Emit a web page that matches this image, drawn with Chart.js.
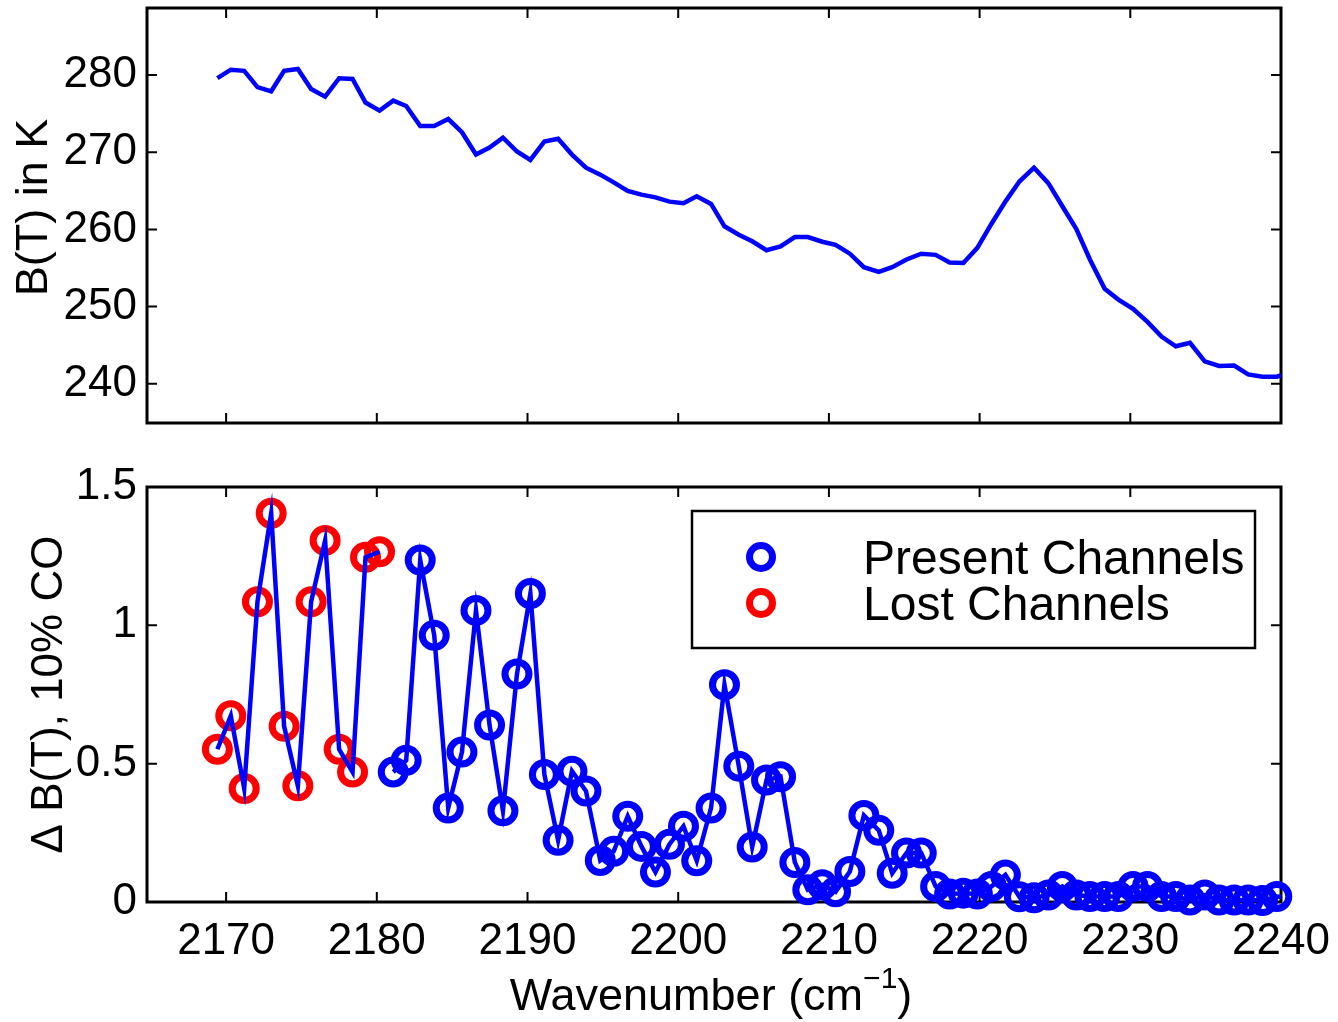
<!DOCTYPE html>
<html>
<head>
<meta charset="utf-8">
<script src="https://cdn.jsdelivr.net/npm/chart.js@4/dist/chart.umd.min.js"></script>
<style>
  html, body { margin: 0; padding: 0; background: #fff; overflow: hidden; }
  #wrap { position: relative; width: 1338px; height: 1022px; background: #fff; }
  #btCanvas { position: absolute; left: 0; top: 0; }
  #dbtCanvas { position: absolute; left: 0; top: 440px; }
</style>
</head>
<body>
<div id="wrap">
  <canvas id="btCanvas" width="1338" height="440"></canvas>
  <canvas id="dbtCanvas" width="1338" height="582"></canvas>
</div>
<script>
// --- Channel grid (cm^-1), shared by both panels ---
const wavenumber = [
  2169.42, 2170.31, 2171.20, 2172.08, 2172.99, 2173.85, 2174.76, 2175.64, 2176.57, 2177.50,
  2178.39, 2179.25, 2180.18, 2181.09, 2181.95, 2182.88, 2183.81, 2184.74, 2185.65, 2186.58,
  2187.48, 2188.37, 2189.30, 2190.19, 2191.12, 2192.03, 2192.95, 2193.88, 2194.83, 2195.72,
  2196.65, 2197.56, 2198.49, 2199.42, 2200.35, 2201.23, 2202.18, 2203.07, 2204.02, 2204.91,
  2205.86, 2206.79, 2207.74, 2208.60, 2209.56, 2210.44, 2211.39, 2212.32, 2213.31, 2214.20,
  2215.15, 2216.13, 2217.08, 2218.01, 2218.92, 2219.85, 2220.78, 2221.71, 2222.64, 2223.61,
  2224.56, 2225.49, 2226.42, 2227.32, 2228.30, 2229.21, 2230.18, 2231.14, 2232.07, 2233.02,
  2233.96, 2234.94, 2235.89, 2236.89, 2237.82, 2238.77, 2239.72, 2240.66
];

// brightness temperature in K
const brightnessTemp = [
  279.6, 280.7, 280.55, 278.45, 277.9, 280.55, 280.8, 278.2, 277.2, 279.6,
  279.5, 276.45, 275.4, 276.7, 276.0, 273.4, 273.4, 274.3, 272.6, 269.7,
  270.6, 271.9, 270.1, 269.0, 271.4, 271.75, 269.7, 268.0, 267.1, 266.1,
  265.0, 264.5, 264.15, 263.6, 263.4, 264.3, 263.3, 260.4, 259.3, 258.45,
  257.3, 257.8, 259.0, 259.0, 258.4, 258.0, 256.85, 255.1, 254.5, 255.1,
  256.1, 256.85, 256.7, 255.7, 255.65, 257.6, 260.7, 263.6, 266.2, 268.0,
  266.0, 263.0, 260.05, 256.1, 252.3, 250.9, 249.7, 248.0, 246.1, 244.85,
  245.3, 242.9, 242.3, 242.35, 241.2, 240.9, 240.9, 241.5
];

// change in brightness temperature for a 10% CO perturbation
const deltaBT = [
  0.552, 0.673, 0.41, 1.085, 1.405, 0.635, 0.42, 1.085, 1.307, 0.552,
  0.47, 1.246, 1.266, 0.47, 0.512, 1.236, 0.964, 0.34, 0.542, 1.054,
  0.64, 0.33, 0.824, 1.115, 0.461, 0.223, 0.473, 0.401, 0.15, 0.183,
  0.31, 0.201, 0.108, 0.209, 0.274, 0.149, 0.34, 0.785, 0.491, 0.199,
  0.441, 0.453, 0.143, 0.044, 0.062, 0.037, 0.11, 0.313, 0.259, 0.104,
  0.177, 0.177, 0.056, 0.029, 0.032, 0.029, 0.056, 0.098, 0.019, 0.015,
  0.025, 0.056, 0.025, 0.02, 0.02, 0.02, 0.056, 0.056, 0.02, 0.02,
  0.007, 0.025, 0.007, 0.007, 0.007, 0.005, 0.02, 0.015
];

const lostChannels = 13; // the first 13 channels are lost

const wnTicks = [2170, 2180, 2190, 2200, 2210, 2220, 2230, 2240];
const btTicks = [240, 250, 260, 270, 280];
const dbtTicks = [0, 0.5, 1, 1.5];
const wnRange = [2164.75, 2240];
const btRange = [234.9, 288.7];
const dbtRange = [0, 1.5];

const BLUE = '#0000ff';
const RED = '#ff0000';
const FONT = '"Liberation Sans", Arial, Helvetica, sans-serif';

// --- Plot box with inward tick marks on all four sides (under the data) ---
const boxTicks = {
  id: 'boxTicks',
  beforeDatasetsDraw(chart, args, opts) {
    const { ctx, chartArea: a, scales } = chart;
    ctx.save();
    ctx.strokeStyle = '#000';
    ctx.lineWidth = 2;
    ctx.beginPath();
    opts.x.forEach(v => {
      const px = scales.x.getPixelForValue(v);
      ctx.moveTo(px, a.bottom); ctx.lineTo(px, a.bottom - 10);
      ctx.moveTo(px, a.top); ctx.lineTo(px, a.top + 10);
    });
    opts.y.forEach(v => {
      const py = scales.y.getPixelForValue(v);
      ctx.moveTo(a.left, py); ctx.lineTo(a.left + 10, py);
      ctx.moveTo(a.right, py); ctx.lineTo(a.right - 10, py);
    });
    ctx.stroke();
    ctx.lineWidth = 3;
    ctx.strokeRect(a.left, a.top, a.right - a.left, a.bottom - a.top);
    ctx.restore();
  }
};

// --- Axis titles (rotated y title, x title with superscript) ---
const axisTitles = {
  id: 'axisTitles',
  afterDraw(chart, args, opts) {
    const { ctx, chartArea: a } = chart;
    ctx.save();
    ctx.fillStyle = '#000';
    ctx.font = `${opts.size}px ${FONT}`;
    ctx.textAlign = 'center';
    ctx.textBaseline = 'middle';
    ctx.save();
    ctx.translate(opts.yX, (a.top + a.bottom) / 2 + (opts.yShift || 0));
    ctx.rotate(-Math.PI / 2);
    ctx.fillText(opts.yText, 0, 0);
    ctx.restore();

    if (opts.xText) {
      const [main, sup, close] = opts.xText;
      ctx.textAlign = 'left';
      ctx.textBaseline = 'alphabetic';
      ctx.font = `${opts.xSize}px ${FONT}`;
      const w1 = ctx.measureText(main).width;
      const w3 = ctx.measureText(close).width;
      ctx.font = `${opts.supSize}px ${FONT}`;
      const w2 = ctx.measureText(sup).width;
      let x = (a.left + a.right) / 2 - (w1 + w2 + w3) / 2 - 3;
      const yb = a.bottom + opts.xBase;
      ctx.font = `${opts.xSize}px ${FONT}`;
      ctx.fillText(main, x, yb);
      x += w1;
      ctx.font = `${opts.supSize}px ${FONT}`;
      ctx.fillText(sup, x, yb - opts.supRaise);
      x += w2;
      ctx.font = `${opts.xSize}px ${FONT}`;
      ctx.fillText(close, x, yb);
    }
    ctx.restore();
  }
};

// --- Boxed legend inside the top right corner of the plot ---
const channelLegend = {
  id: 'channelLegend',
  afterDraw(chart, args, opts) {
    if (!opts.items) return;
    const { ctx, chartArea: a } = chart;
    const w = 563, h = 137;
    const left = a.right - 26 - w, top = a.top + 24;
    ctx.save();
    ctx.fillStyle = '#fff';
    ctx.fillRect(left, top, w, h);
    ctx.strokeStyle = '#000';
    ctx.lineWidth = 2.5;
    ctx.strokeRect(left, top, w, h);
    ctx.font = `48px ${FONT}`;
    ctx.textAlign = 'left';
    ctx.textBaseline = 'alphabetic';
    opts.items.forEach((it, i) => {
      const cy = top + 46 + i * 46;
      ctx.beginPath();
      ctx.arc(left + 69, cy, 11.5, 0, Math.PI * 2);
      ctx.lineWidth = 7;
      ctx.strokeStyle = it.color;
      ctx.stroke();
      ctx.fillStyle = '#000';
      ctx.fillText(it.text, left + 171, cy + 17);
    });
    ctx.restore();
  }
};

function yScale(range, ticks) {
  return {
    type: 'linear',
    min: range[0],
    max: range[1],
    afterBuildTicks: s => { s.ticks = ticks.map(v => ({ value: v })); },
    afterFit: s => { s.width = 147; s.paddingTop = 0; s.paddingBottom = 0; },
    grid: { display: false, drawTicks: false },
    border: { display: false },
    ticks: { color: '#000', font: { size: 44, family: FONT }, padding: 10, callback: v => String(v) }
  };
}

const common = {
  responsive: false,
  animation: false,
  events: [],
  plugins: { legend: { display: false }, tooltip: { enabled: false } }
};

// --- Top panel: brightness temperature ---
new Chart(document.getElementById('btCanvas'), {
  type: 'scatter',
  data: {
    datasets: [{
      data: wavenumber.map((x, i) => ({ x, y: brightnessTemp[i] })),
      showLine: true,
      borderColor: BLUE,
      borderWidth: 4.5,
      pointRadius: 0,
      clip: 0
    }]
  },
  options: {
    ...common,
    layout: { padding: { top: 8, bottom: 17, left: 0, right: 57 } },
    plugins: {
      ...common.plugins,
      boxTicks: { x: wnTicks, y: btTicks },
      axisTitles: { size: 45, yText: 'B(T) in K', yX: 35, yShift: -8 }
    },
    scales: {
      x: {
        type: 'linear', min: wnRange[0], max: wnRange[1], display: false,
        afterBuildTicks: s => { s.ticks = wnTicks.map(v => ({ value: v })); }
      },
      y: yScale(btRange, btTicks)
    }
  },
  plugins: [boxTicks, axisTitles]
});

// --- Bottom panel: sensitivity to CO, lost vs present channels ---
const dbtPoints = wavenumber.map((x, i) => ({ x, y: deltaBT[i] }));
const inRange = p => p.x <= wnRange[1];

new Chart(document.getElementById('dbtCanvas'), {
  type: 'scatter',
  data: {
    datasets: [
      {
        data: dbtPoints,
        showLine: true,
        borderColor: BLUE,
        borderWidth: 4.5,
        pointRadius: 0,
        clip: 0,
        // no connecting segment between the last lost and the first present channel
        segment: { borderColor: c => (c.p0DataIndex === lostChannels - 1 ? 'rgba(0,0,0,0)' : BLUE) }
      },
      {
        label: 'Present Channels',
        data: dbtPoints.slice(lostChannels).filter(inRange),
        pointRadius: 12,
        pointBorderWidth: 7,
        pointBorderColor: BLUE,
        pointBackgroundColor: 'rgba(0,0,0,0)',
        clip: false
      },
      {
        label: 'Lost Channels',
        data: dbtPoints.slice(0, lostChannels),
        pointRadius: 12,
        pointBorderWidth: 7,
        pointBorderColor: RED,
        pointBackgroundColor: 'rgba(0,0,0,0)',
        clip: false
      }
    ]
  },
  options: {
    ...common,
    layout: { padding: { top: 47, bottom: 0, left: 0, right: 57 } },
    plugins: {
      ...common.plugins,
      boxTicks: { x: wnTicks, y: dbtTicks },
      axisTitles: {
        size: 44, yText: 'Δ B(T), 10% CO', yX: 50,
        xText: ['Wavenumber (cm', '−1', ')'], xSize: 45, supSize: 30, supRaise: 22, xBase: 108
      },
      channelLegend: {
        items: [
          { text: 'Present Channels', color: BLUE },
          { text: 'Lost Channels', color: RED }
        ]
      }
    },
    scales: {
      x: {
        type: 'linear', min: wnRange[0], max: wnRange[1],
        afterBuildTicks: s => { s.ticks = wnTicks.map(v => ({ value: v })); },
        afterFit: s => { s.height = 120; s.paddingLeft = 0; s.paddingRight = 0; },
        grid: { display: false, drawTicks: false },
        border: { display: false },
        ticks: {
          color: '#000', font: { size: 44, family: FONT }, padding: 13,
          autoSkip: false, maxRotation: 0, callback: v => String(v)
        }
      },
      y: yScale(dbtRange, dbtTicks)
    }
  },
  plugins: [boxTicks, axisTitles, channelLegend]
});
</script>
</body>
</html>
